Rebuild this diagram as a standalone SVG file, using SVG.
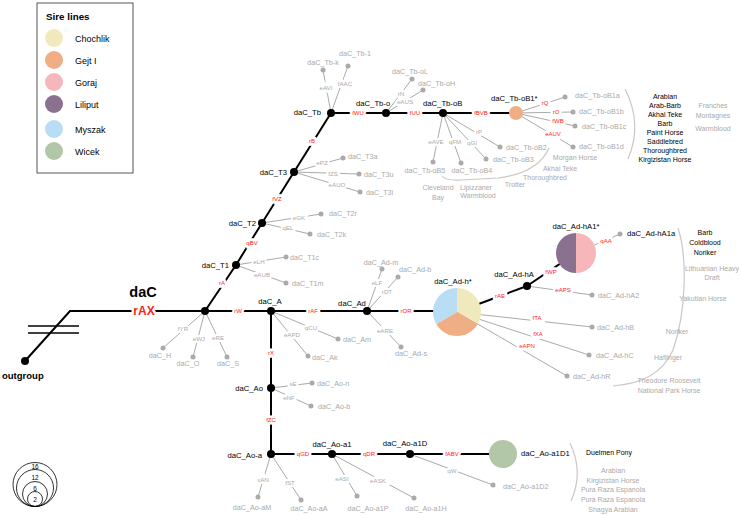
<svg xmlns="http://www.w3.org/2000/svg" width="741" height="515" viewBox="0 0 741 515">
<style>
text{font-family:"Liberation Sans",Arial,sans-serif;dominant-baseline:central}
.main{stroke:#000;stroke-width:2;fill:none}
.gl{stroke:#aaa;stroke-width:1;fill:none}
.br{stroke:#cdc6c6;stroke-width:1.2;fill:none}
.nd{fill:#000}
.lf{fill:#aaa}
.nl{font-size:7.7px;fill:#000}
.ll{font-size:7.2px;fill:#aaa}
.el{font-size:6px;fill:#ff2222;stroke:#fff;stroke-width:5;paint-order:stroke;text-anchor:middle}
.ge{font-size:6.2px;fill:#aaa;stroke:#fff;stroke-width:4;paint-order:stroke;text-anchor:middle}
.an{font-size:7px;fill:#000;text-anchor:middle}
.ag{font-size:7px;fill:#aaa;text-anchor:middle}
.mid{text-anchor:middle}
.end{text-anchor:end}
</style>

<g id="legend">
<rect x="37" y="3" width="96" height="170" fill="#fff" stroke="#555" stroke-width="1"/>
<text x="46" y="16" style="font-size:9.8px;font-weight:bold">Sire lines</text>
<circle cx="54" cy="38" r="9" fill="#f1e9be"/><text x="75" y="39" style="font-size:9px">Chochlik</text>
<circle cx="54" cy="60" r="9" fill="#f0ae85"/><text x="75" y="61" style="font-size:9px">Gejt I</text>
<circle cx="54" cy="82" r="9" fill="#f7b7ba"/><text x="75" y="83" style="font-size:9px">Goraj</text>
<circle cx="54" cy="104" r="9" fill="#8b7190"/><text x="75" y="105" style="font-size:9px">Liliput</text>
<circle cx="54" cy="129" r="9" fill="#b9ddf4"/><text x="75" y="130" style="font-size:9px">Myszak</text>
<circle cx="54" cy="151" r="9" fill="#b1c7a7"/><text x="75" y="152" style="font-size:9px">Wicek</text>
</g>

<g id="scale" fill="none" stroke="#000" stroke-width="0.8">
<circle cx="35" cy="484.5" r="22"/>
<circle cx="35" cy="488" r="18.5"/>
<circle cx="35" cy="494" r="12.5"/>
<circle cx="35" cy="499" r="7.5"/>
<g stroke="none" fill="#000" style="font-size:6.5px" text-anchor="middle">
<text x="35" y="466">16</text><text x="35" y="477">12</text><text x="35" y="488.5">6</text><text x="35" y="499.5">2</text>
</g>
</g>

<g id="connectors">
<polyline class="main" points="25,361 70,311 205,311"/>
<line x1="28" y1="326" x2="79" y2="326" stroke="#000" stroke-width="1.6"/>
<line x1="28" y1="333" x2="79" y2="333" stroke="#000" stroke-width="1.6"/>
<line class="main" x1="205" y1="311" x2="236" y2="265"/>
<line class="main" x1="236" y1="265" x2="262" y2="223"/>
<line class="main" x1="262" y1="223" x2="294" y2="172"/>
<line class="main" x1="294" y1="172" x2="331" y2="113"/>
<line class="main" x1="331" y1="113" x2="386" y2="113"/>
<line class="main" x1="386" y1="113" x2="443" y2="113"/>
<line class="main" x1="443" y1="113" x2="516" y2="113"/>
<line class="main" x1="205" y1="311" x2="271" y2="311"/>
<line class="main" x1="271" y1="311" x2="367" y2="311"/>
<line class="main" x1="367" y1="311" x2="457" y2="311"/>
<line class="main" x1="457" y1="312" x2="527" y2="286"/>
<line class="main" x1="527" y1="286" x2="576" y2="253"/>
<line class="main" x1="271" y1="311" x2="271" y2="388"/>
<line class="main" x1="271" y1="388" x2="271" y2="454"/>
<line class="main" x1="271" y1="454" x2="332" y2="454"/>
<line class="main" x1="332" y1="454" x2="410" y2="454"/>
<line class="main" x1="410" y1="454" x2="503" y2="454"/>

<line class="gl" x1="205" y1="311" x2="163" y2="348"/>
<line class="gl" x1="205" y1="311" x2="193" y2="357"/>
<line class="gl" x1="205" y1="311" x2="227" y2="357"/>
<line class="gl" x1="236" y1="265" x2="286" y2="257"/>
<line class="gl" x1="236" y1="265" x2="286" y2="283"/>
<line class="gl" x1="262" y1="223" x2="321" y2="214"/>
<line class="gl" x1="262" y1="223" x2="310" y2="234"/>
<line class="gl" x1="294" y1="172" x2="343" y2="158"/>
<line class="gl" x1="294" y1="172" x2="359" y2="174"/>
<line class="gl" x1="294" y1="172" x2="360" y2="192"/>
<line class="gl" x1="331" y1="113" x2="323" y2="70"/>
<line class="gl" x1="331" y1="113" x2="348" y2="66"/>
<line class="gl" x1="386" y1="113" x2="412" y2="79"/>
<line class="gl" x1="386" y1="113" x2="423" y2="90"/>
<line class="gl" x1="443" y1="113" x2="433" y2="162"/>
<line class="gl" x1="443" y1="113" x2="461" y2="163"/>
<line class="gl" x1="443" y1="113" x2="486" y2="159"/>
<line class="gl" x1="443" y1="113" x2="500" y2="147"/>
<line class="gl" x1="516" y1="113" x2="565" y2="97"/>
<line class="gl" x1="516" y1="113" x2="573" y2="112"/>
<line class="gl" x1="516" y1="113" x2="575" y2="126"/>
<line class="gl" x1="516" y1="113" x2="573" y2="147"/>
<line class="gl" x1="271" y1="311" x2="338" y2="339"/>
<line class="gl" x1="271" y1="311" x2="308" y2="356"/>
<line class="gl" x1="367" y1="311" x2="382" y2="269"/>
<line class="gl" x1="367" y1="311" x2="398" y2="277"/>
<line class="gl" x1="367" y1="311" x2="401" y2="347"/>
<line class="gl" x1="457" y1="312" x2="592" y2="327"/>
<line class="gl" x1="457" y1="312" x2="589" y2="355"/>
<line class="gl" x1="457" y1="312" x2="567" y2="376"/>
<line class="gl" x1="527" y1="286" x2="592" y2="295"/>
<line class="gl" x1="576" y1="253" x2="620" y2="234"/>
<line class="gl" x1="271" y1="388" x2="312" y2="383"/>
<line class="gl" x1="271" y1="388" x2="311" y2="406"/>
<line class="gl" x1="271" y1="454" x2="258" y2="497"/>
<line class="gl" x1="271" y1="454" x2="301" y2="500"/>
<line class="gl" x1="332" y1="454" x2="357" y2="496"/>
<line class="gl" x1="332" y1="454" x2="414" y2="498"/>
<line class="gl" x1="410" y1="454" x2="493" y2="485"/>

<path class="br" d="M442,176 Q446,181 462,180 L498,178 Q538,173 549,148"/>
<path class="br" d="M625,89 Q643,124 628,159"/>
<path class="br" d="M678,228 C687,255 687,310 673,350 C662,375 640,384 613,386"/>
<path class="br" d="M570,443 Q584,472 571,501"/>

<g class="lf">
<circle cx="163" cy="348" r="2.5"/><circle cx="193" cy="357" r="2.5"/><circle cx="227" cy="357" r="2.5"/>
<circle cx="286" cy="257" r="2.5"/><circle cx="286" cy="283" r="2.5"/>
<circle cx="321" cy="214" r="2.5"/><circle cx="310" cy="234" r="2.5"/>
<circle cx="343" cy="158" r="2.5"/><circle cx="359" cy="174" r="2.5"/><circle cx="360" cy="192" r="2.5"/>
<circle cx="323" cy="70" r="2.5"/><circle cx="348" cy="66" r="2.5"/>
<circle cx="412" cy="79" r="2.5"/><circle cx="423" cy="90" r="2.5"/>
<circle cx="433" cy="162" r="2.5"/><circle cx="461" cy="163" r="2.5"/><circle cx="486" cy="159" r="2.5"/><circle cx="500" cy="147" r="2.5"/>
<circle cx="565" cy="97" r="2.5"/><circle cx="573" cy="112" r="2.5"/><circle cx="575" cy="126" r="2.5"/><circle cx="573" cy="147" r="2.5"/>
<circle cx="338" cy="339" r="2.5"/><circle cx="308" cy="356" r="2.5"/>
<circle cx="382" cy="269" r="2.5"/><circle cx="398" cy="277" r="2.5"/><circle cx="401" cy="347" r="2.5"/>
<circle cx="592" cy="327" r="2.5"/><circle cx="589" cy="355" r="2.5"/><circle cx="567" cy="376" r="2.5"/>
<circle cx="592" cy="295" r="2.5"/><circle cx="620" cy="234" r="2.5"/>
<circle cx="312" cy="383" r="2.5"/><circle cx="311" cy="406" r="2.5"/>
<circle cx="258" cy="497" r="2.5"/><circle cx="301" cy="500" r="2.5"/>
<circle cx="357" cy="496" r="2.5"/><circle cx="414" cy="498" r="2.5"/><circle cx="493" cy="485" r="2.5"/>
</g>

<text x="144" y="311" style="font-size:12px;font-weight:bold;fill:#ff2222;stroke:#fff;stroke-width:5;paint-order:stroke;text-anchor:middle">rAX</text>
<text class="el" x="222" y="283">rA</text>
<text class="el" x="238" y="311">rW</text>
<text class="el" x="252" y="243">qBV</text>
<text class="el" x="277" y="199">fVZ</text>
<text class="el" x="312" y="141">rB</text>
<text class="el" x="358" y="113">fWU</text>
<text class="el" x="415" y="113">fUU</text>
<text class="el" x="481" y="113">fBVB</text>
<text class="el" x="313" y="311">rAF</text>
<text class="el" x="406" y="311">rOR</text>
<text class="el" x="500" y="296">rAE</text>
<text class="el" x="551" y="272">fWP</text>
<text class="el" x="271" y="353">rX</text>
<text class="el" x="271" y="420">fZC</text>
<text class="el" x="303" y="454">qGD</text>
<text class="el" x="369" y="454">qDR</text>
<text class="el" x="452" y="454">fABV</text>
<text class="el" x="545" y="103">rQ</text>
<text class="el" x="556" y="112">rO</text>
<text class="el" x="558" y="121">fWB</text>
<text class="el" x="553" y="134">eAUV</text>
<text class="el" x="606" y="241">qAA</text>
<text class="el" x="563" y="290">eAPS</text>
<text class="el" x="537" y="318">fTA</text>
<text class="el" x="538" y="334">fXA</text>
<text class="el" x="527" y="346">eAPN</text>

<text class="ge" x="183" y="328">fYR</text>
<text class="ge" x="199" y="338">eWJ</text>
<text class="ge" x="218" y="337">eRE</text>
<text class="ge" x="259" y="261">eLH</text>
<text class="ge" x="262" y="274">eAUB</text>
<text class="ge" x="299" y="217">eGK</text>
<text class="ge" x="288" y="227">qEL</text>
<text class="ge" x="322" y="162">ePZ</text>
<text class="ge" x="333" y="173">fZS</text>
<text class="ge" x="337" y="184">eAUO</text>
<text class="ge" x="326" y="87">eAVI</text>
<text class="ge" x="345" y="83">fAAC</text>
<text class="ge" x="401" y="93">rN</text>
<text class="ge" x="405" y="101">eAUS</text>
<text class="ge" x="436" y="141">eAVE</text>
<text class="ge" x="455" y="141">qFM</text>
<text class="ge" x="472" y="142">qGI</text>
<text class="ge" x="479" y="131">rP</text>
<text class="ge" x="311" y="327">qCU</text>
<text class="ge" x="292" y="334">eAPD</text>
<text class="ge" x="377" y="282">eLF</text>
<text class="ge" x="387" y="291">rDT</text>
<text class="ge" x="385" y="330">eARE</text>
<text class="ge" x="293" y="383">sE</text>
<text class="ge" x="289" y="397">eNF</text>
<text class="ge" x="263" y="479">xAN</text>
<text class="ge" x="290" y="482">fST</text>
<text class="ge" x="342" y="478">eASI</text>
<text class="ge" x="378" y="480">eASK</text>
<text class="ge" x="452" y="470">qW</text>
</g>

<g id="n-outgroup"><circle class="nd" cx="25" cy="361" r="4"/><text x="2" y="375" style="font-size:9.5px;font-weight:bold">outgroup</text></g>
<g id="n-daC"><circle class="nd" cx="205" cy="311" r="4"/><text x="143" y="292" class="mid" style="font-size:14.5px;font-weight:bold">daC</text></g>
<g id="n-daC_H"><text class="ll mid" x="160" y="355">daC_H</text></g>
<g id="n-daC_O"><text class="ll mid" x="188" y="363">daC_O</text></g>
<g id="n-daC_S"><text class="ll mid" x="228" y="363">daC_S</text></g>
<g id="n-daC_T1"><circle class="nd" cx="236" cy="265" r="4"/><text class="nl end" x="229" y="265">daC_T1</text></g>
<g id="n-daC_T1c"><text class="ll" x="290" y="257">daC_T1c</text></g>
<g id="n-daC_T1m"><text class="ll" x="292" y="283">daC_T1m</text></g>
<g id="n-daC_T2"><circle class="nd" cx="262" cy="223" r="4"/><text class="nl end" x="256" y="223">daC_T2</text></g>
<g id="n-daC_T2r"><text class="ll" x="329" y="213">daC_T2r</text></g>
<g id="n-daC_T2k"><text class="ll" x="317" y="234">daC_T2k</text></g>
<g id="n-daC_T3"><circle class="nd" cx="294" cy="172" r="4"/><text class="nl end" x="287" y="172">daC_T3</text></g>
<g id="n-daC_T3a"><text class="ll" x="348" y="156">daC_T3a</text></g>
<g id="n-daC_T3u"><text class="ll" x="364" y="174">daC_T3u</text></g>
<g id="n-daC_T3i"><text class="ll" x="366" y="192">daC_T3i</text></g>
<g id="n-daC_Tb"><circle class="nd" cx="331" cy="113" r="4"/><text class="nl end" x="321" y="112">daC_Tb</text></g>
<g id="n-daC_Tb-k"><text class="ll mid" x="323" y="62">daC_Tb-k</text></g>
<g id="n-daC_Tb-1"><text class="ll mid" x="355" y="53">daC_Tb-1</text></g>
<g id="n-daC_Tb-o"><circle class="nd" cx="386" cy="113" r="4"/><text class="nl" x="356" y="103">daC_Tb-o</text></g>
<g id="n-daC_Tb-oL"><text class="ll mid" x="410" y="71">daC_Tb-oL</text></g>
<g id="n-daC_Tb-oH"><text class="ll" x="418" y="83">daC_Tb-oH</text></g>
<g id="n-daC_Tb-oB"><circle class="nd" cx="443" cy="113" r="4"/><text class="nl" x="423" y="103">daC_Tb-oB</text></g>
<g id="n-daC_Tb-oB2"><text class="ll" x="506" y="147">daC_Tb-oB2</text></g>
<g id="n-daC_Tb-oB3"><text class="ll" x="493" y="159">daC_Tb-oB3</text></g>
<g id="n-daC_Tb-oB4"><text class="ll mid" x="472" y="170">daC_Tb-oB4</text></g>
<g id="n-daC_Tb-oB5"><text class="ll mid" x="425" y="170">daC_Tb-oB5</text></g>
<g id="n-daC_Tb-oB1"><circle cx="516" cy="113" r="7" fill="#f0ae85"/><text class="nl" x="491" y="98">daC_Tb-oB1*</text></g>
<g id="n-daC_Tb-oB1a"><text class="ll" x="575" y="95">daC_Tb-oB1a</text></g>
<g id="n-daC_Tb-oB1b"><text class="ll" x="579" y="111">daC_Tb-oB1b</text></g>
<g id="n-daC_Tb-oB1c"><text class="ll" x="582" y="126">daC_Tb-oB1c</text></g>
<g id="n-daC_Tb-oB1d"><text class="ll" x="579" y="146">daC_Tb-oB1d</text></g>
<g id="ann-Tb-oB1">
<text class="an" x="665" y="96">Arabian</text><text class="an" x="665" y="105">Arab-Barb</text><text class="an" x="665" y="114">Akhal Teke</text><text class="an" x="665" y="123">Barb</text>
<text class="an" x="665" y="132">Paint Horse</text><text class="an" x="665" y="141">Saddlebred</text><text class="an" x="665" y="150">Thoroughbred</text><text class="an" x="665" y="159">Kirgizistan Horse</text>
<text class="ag" x="713" y="105">Franches</text><text class="ag" x="713" y="115">Montagnes</text><text class="ag" x="713" y="128">Warmblood</text>
</g>
<g id="ann-Tb-oB">
<text class="ag" x="575" y="157">Morgan Horse</text><text class="ag" x="560" y="168">Akhal Teke</text><text class="ag" x="545" y="177">Thoroughbred</text>
<text class="ag" x="515" y="184">Trotter</text><text class="ag" x="476" y="187">Lipizzaner</text><text class="ag" x="478" y="195">Warmblood</text>
<text class="ag" x="438" y="187">Cleveland</text><text class="ag" x="438" y="197">Bay</text>
</g>
<g id="n-daC_A"><circle class="nd" cx="271" cy="311" r="4"/><text class="nl mid" x="270" y="301">daC_A</text></g>
<g id="n-daC_Am"><text class="ll" x="343" y="339">daC_Am</text></g>
<g id="n-daC_Ak"><text class="ll" x="312" y="357">daC_Ak</text></g>
<g id="n-daC_Ad"><circle class="nd" cx="367" cy="311" r="4"/><text class="nl mid" x="352" y="303">daC_Ad</text></g>
<g id="n-daC_Ad-m"><text class="ll mid" x="381" y="262">daC_Ad-m</text></g>
<g id="n-daC_Ad-b"><text class="ll" x="399" y="269">daC_Ad-b</text></g>
<g id="n-daC_Ad-s"><text class="ll mid" x="411" y="353">daC_Ad-s</text></g>
<g id="n-daC_Ad-h">
<path d="M457,312 L457,288 A24,24 0 0 1 477.78,324 Z" fill="#f1e9be"/>
<path d="M457,312 L477.78,324 A24,24 0 0 1 436.22,324 Z" fill="#f0ae85"/>
<path d="M457,312 L436.22,324 A24,24 0 0 1 457,288 Z" fill="#b9ddf4"/>
<text class="nl mid" x="453" y="281">daC_Ad-h*</text></g>
<g id="n-daC_Ad-hA"><circle class="nd" cx="527" cy="286" r="4"/><text class="nl mid" x="514" y="274">daC_Ad-hA</text></g>
<g id="n-daC_Ad-hA2"><text class="ll" x="598" y="295">daC_Ad-hA2</text></g>
<g id="n-daC_Ad-hB"><text class="ll" x="597" y="327">daC_Ad-hB</text></g>
<g id="n-daC_Ad-hC"><text class="ll" x="596" y="355">daC_Ad-hC</text></g>
<g id="n-daC_Ad-hR"><text class="ll" x="573" y="376">daC_Ad-hR</text></g>
<g id="n-daC_Ad-hA1">
<path d="M576,233 A20,20 0 0 0 576,273 Z" fill="#8b7190"/>
<path d="M576,233 A20,20 0 0 1 576,273 Z" fill="#f7b7ba"/>
<text class="nl mid" x="576" y="226">daC_Ad-hA1*</text></g>
<g id="n-daC_Ad-hA1a"><text class="nl" x="627" y="233">daC_Ad-hA1a</text></g>
<g id="ann-Ad-hA1">
<text class="an" x="705" y="232">Barb</text><text class="an" x="705" y="242">Coldblood</text><text class="an" x="705" y="252">Noriker</text>
<text class="ag" x="712" y="268">Lithuanian Heavy</text><text class="ag" x="712" y="277">Draft</text>
<text class="ag" x="703" y="298">Yakutian Horse</text><text class="ag" x="677" y="331">Noriker</text><text class="ag" x="668" y="357">Haflinger</text>
<text class="ag" x="669" y="380">Theodore Roosevelt</text><text class="ag" x="669" y="390">National Park Horse</text>
</g>
<g id="n-daC_Ao"><circle class="nd" cx="271" cy="388" r="4"/><text class="nl end" x="263" y="388">daC_Ao</text></g>
<g id="n-daC_Ao-n"><text class="ll" x="317" y="383">daC_Ao-n</text></g>
<g id="n-daC_Ao-b"><text class="ll" x="318" y="406">daC_Ao-b</text></g>
<g id="n-daC_Ao-a"><circle class="nd" cx="271" cy="454" r="4"/><text class="nl end" x="262" y="455">daC_Ao-a</text></g>
<g id="n-daC_Ao-aM"><text class="ll mid" x="252" y="507">daC_Ao-aM</text></g>
<g id="n-daC_Ao-aA"><text class="ll mid" x="309" y="508">daC_Ao-aA</text></g>
<g id="n-daC_Ao-a1"><circle class="nd" cx="332" cy="454" r="4"/><text class="nl mid" x="332" y="444">daC_Ao-a1</text></g>
<g id="n-daC_Ao-a1P"><text class="ll mid" x="368" y="508">daC_Ao-a1P</text></g>
<g id="n-daC_Ao-a1H"><text class="ll mid" x="426" y="508">daC_Ao-a1H</text></g>
<g id="n-daC_Ao-a1D"><circle class="nd" cx="410" cy="454" r="4"/><text class="nl mid" x="405" y="443">daC_Ao-a1D</text></g>
<g id="n-daC_Ao-a1D2"><text class="ll" x="503" y="486">daC_Ao-a1D2</text></g>
<g id="n-daC_Ao-a1D1"><circle cx="503" cy="454" r="14" fill="#b1c7a7"/><text class="nl" x="521" y="453">daC_Ao-a1D1</text></g>
<g id="ann-Ao-a1D1">
<text class="an" x="609" y="452">Duelmen Pony</text>
<text class="ag" x="613" y="470">Arabian</text><text class="ag" x="613" y="480">Kirgizistan Horse</text><text class="ag" x="613" y="489">Pura Raza Espanola</text>
<text class="ag" x="613" y="499">Pura Raza Espanola</text><text class="ag" x="613" y="509">Shagya Arabian</text>
</g>
</svg>
